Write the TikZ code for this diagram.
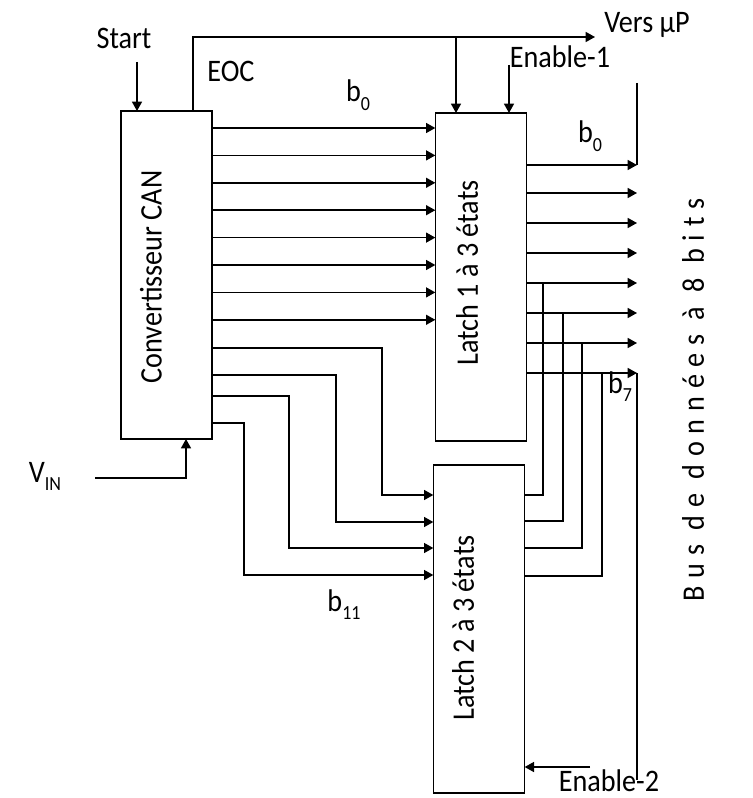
\documentclass[tikz,border=0pt]{standalone}
\usepackage{fontspec}
\setmainfont{Carlito}[FakeStretch=0.9]
\usetikzlibrary{arrows.meta}
\newcommand\sbs[1]{\raisebox{-0.28em}{\fontsize{15}{15}\selectfont #1}}
\begin{document}
\begin{tikzpicture}[x=0.75pt,y=-0.75pt,line width=1.1pt,
  >={Triangle[length=7pt,width=7.5pt]},
  box/.style={draw,inner sep=0pt,outer sep=0pt,minimum width=68.5pt,minimum height=246pt},
  lbl/.style={inner sep=1pt,anchor=base,font=\fontsize{23.5}{28}\selectfont},
  vlbl/.style={inner sep=1pt,rotate=90,font=\fontsize{23.5}{28}\selectfont}]
\useasboundingbox (0,0) rectangle (752,798);
% blocks
\node[box] (can) at (166.5,275) {};
\node[box] (l1) at (481,277) {};
\node[box] (l2) at (479,629) {};
\node[vlbl] (tcan) at (151,277) {Convertisseur CAN};
\node[vlbl] (tl1) at (467,273) {Latch 1 à 3 états};
\node[vlbl] (tl2) at (463,628) {Latch 2 à 3 états};
% labels
\node[lbl] (start) at (124,49) {Start};
\node[lbl] (eocl) at (231,82) {EOC};
\node[lbl] (vers) at (647,33) {Vers µP};
\node[lbl] (en1) at (560,68) {Enable-1};
\node[lbl,inner sep=0pt] (en2) at (609,791) {Enable-2};
\node[lbl] (vin) at (45,482) {V\sbs{IN}};
\node[lbl] (b0a) at (358,102) {b\sbs{0}};
\node[lbl] (b0b) at (590,143) {b\sbs{0}};
\node[lbl] (b7) at (620,393) {b\sbs{7}};
\node[lbl] (b11) at (344,611) {b\sbs{11}};
\node[vlbl,font=\fontsize{23.5}{28}\selectfont\addfontfeature{LetterSpace=25}] (bus) at (693,400) {Bus de données à 8 bits};
% control signals
\coordinate (st) at (137,62);
\draw[->] (st) -- (can.north -| st);
\coordinate (eoc) at (193,37);
\coordinate (vp) at (595,37);
\coordinate (br) at (456,37);
\draw[->] (can.north -| eoc) -- (eoc) -- (vp);
\draw[->] (br) -- (l1.north -| br);
\coordinate (e1) at (509,65);
\draw[->] (e1) -- (l1.north -| e1);
\coordinate (vinA) at (95,478);
\coordinate (vinB) at (186,478);
\draw[->] (vinA) -- (vinB) -- (can.south -| vinB);
\coordinate (e2) at (590,767);
\draw[->] (e2) -- (l2.east |- e2);
% CAN -> latch 1
\foreach \i in {0,...,7}{
  \coordinate (r\i) at (0,128+27.4*\i);
  \draw[->] (can.east |- r\i) -- (l1.west |- r\i);
}
% CAN -> latch 2
\foreach \ya/\xv/\yb [count=\k] in {348/382/495,375/336/522,396/289/548,423/244/575}{
  \coordinate (s\k) at (\xv,\ya);
  \coordinate (t\k) at (\xv,\yb);
  \draw[->] (can.east |- s\k) -- (s\k) -- (t\k) -- (l2.west |- t\k);
}
% bus
\coordinate (bustop) at (637,83);
\coordinate (busbot) at (637,780);
\foreach \y [count=\k] in {165,193,223,253,283,313,343,373}{
  \coordinate (o\k) at (637,\y);
  \draw[->] (l1.east |- o\k) -- (o\k);
}
\draw (bustop) -- (o1);
\draw (o8) -- (busbot);
% latch 2 -> bus
\foreach \yo/\xv/\yt in {495/543/283,521/563/313,548/582/343,576/602/373}{
  \coordinate (p) at (\xv,\yo);
  \coordinate (q) at (\xv,\yt);
  \draw (l2.east |- p) -- (p) -- (q);
}
\end{tikzpicture}
\end{document}
